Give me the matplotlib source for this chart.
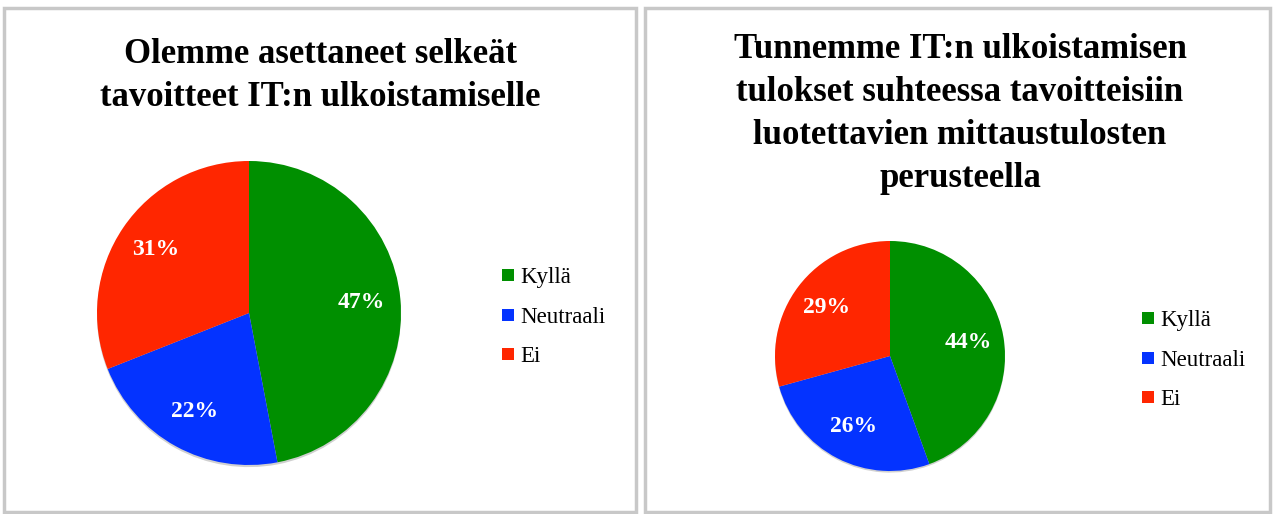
import matplotlib.pyplot as plt
from matplotlib.lines import Line2D
from matplotlib.patches import Rectangle

labels = ['Kyllä', 'Neutraali', 'Ei']
colors = ['#008f00', '#0433ff', '#ff2600']

title_left = 'Olemme asettaneet selkeät\ntavoitteet IT:n ulkoistamiselle'
values_left = [47, 22, 31]

title_right = ('Tunnemme IT:n ulkoistamisen\ntulokset suhteessa tavoitteisiin\n'
               'luotettavien mittaustulosten\nperusteella')
values_right = [44, 26, 29]

W, H = 1273, 514
fig = plt.figure(figsize=(W / 100, H / 100), dpi=100)
serif = 'Liberation Serif'


def px_axes(cx, cy, r):
    return fig.add_axes([(cx - r) / W, (H - cy - r) / H, 2 * r / W, 2 * r / H])


def draw_pie(ax, values, dist):
    wedges, texts = ax.pie(values, colors=colors, startangle=90, counterclock=False,
                           labels=[f'{v}%' for v in values], labeldistance=dist,
                           wedgeprops=dict(linewidth=0),
                           shadow=dict(ox=0.0, oy=-0.01, alpha=0.25,
                                       facecolor='#444444', edgecolor='none'))
    for t in texts:
        t.set_color('white')
        t.set_fontfamily(serif)
        t.set_fontweight('bold')
        t.set_fontsize(17)
        t.set_ha('center')
        t.set_va('center')
    ax.set_xlim(-1.05, 1.05)
    ax.set_ylim(-1.05, 1.05)
    ax.set_aspect('equal')


# panel frames
for x0, x1 in [(4, 636), (645, 1270)]:
    fig.add_artist(Rectangle((x0 / W, 2 / H), (x1 - x0) / W, (H - 10) / H,
                             transform=fig.transFigure, fill=False,
                             edgecolor='#c8c8c8', linewidth=2.5))

ax1 = px_axes(249, 313, 152 * 1.05)
draw_pie(ax1, values_left, 0.74)
ax2 = px_axes(890, 356, 115 * 1.05)
draw_pie(ax2, values_right, 0.69)

fig.text(320 / W, 1 - 76 / H, title_left, ha='center', va='center', fontsize=25,
         fontfamily=serif, fontweight='bold', linespacing=1.4)
fig.text(960 / W, 1 - 114 / H, title_right, ha='center', va='center', fontsize=25,
         fontfamily=serif, fontweight='bold', linespacing=1.4)

handles = [Line2D([], [], marker='s', linestyle='none', markersize=8,
                  markerfacecolor=c, markeredgewidth=0) for c in colors]
for x, y in [(500, 317), (1140, 360)]:
    fig.legend(handles, labels, loc='center left', bbox_to_anchor=(x / W, 1 - y / H),
               frameon=False, prop=dict(family=serif, size=16.5), handlelength=0.7,
               handletextpad=0.2, labelspacing=0.8, borderpad=0, borderaxespad=0)

fig.savefig('out.png', dpi=100)
